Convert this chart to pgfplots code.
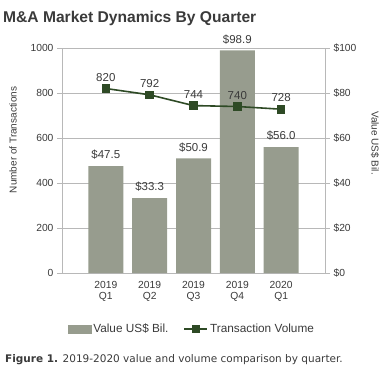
\documentclass[border=0pt]{standalone}
\usepackage{fontspec}
\setmainfont{Liberation Sans}
\newfontfamily\capfont{DejaVu Sans}
\usepackage{pgfplots}
\pgfplotsset{compat=1.18}
\definecolor{barc}{HTML}{979C8E}
\definecolor{linec}{HTML}{2E4A25}
\definecolor{gridc}{HTML}{B8B8B8}
\definecolor{txt}{HTML}{3A3A3A}
\pgfplotsset{
  base/.style={
    at={(62pt,-273pt)}, anchor=south west,
    width=263pt, height=225pt, scale only axis,
    xmin=-1, xmax=5, ymin=0,
    /pgf/number format/assume math mode=true,
    /pgf/number format/1000 sep={},
    tick align=outside, major tick length=5pt,
    axis line style={gridc, line width=0.8pt},
    tick style={gridc, line width=0.8pt},
    ticklabel style={font=\fontsize{10.3}{12}\selectfont, text=txt},
    label style={font=\fontsize{10}{12}\selectfont, text=txt},
  }
}
\begin{document}
\begin{tikzpicture}[x=1pt,y=1pt]
\path[use as bounding box] (0,0) rectangle (390,-380);
\node[anchor=west, font=\bfseries\fontsize{15.6}{17}\selectfont, text=txt, inner sep=0] at (3,-18) {M\&A Market Dynamics By Quarter};

% bars on the right axis
\begin{axis}[base,
  ymax=100, ytick={0,20,...,100},
  yticklabel={\$\pgfmathprintnumber{\tick}},
  axis y line*=right, axis x line*=bottom,
  ymajorgrids, grid style={gridc, line width=0.8pt},
  xtick={0,1,2,3,4},
  xticklabels={{2019\\Q1},{2019\\Q2},{2019\\Q3},{2019\\Q4},{2020\\Q1}},
  xticklabel style={align=center, font=\fontsize{10.3}{11}\selectfont},
  x tick style={draw=none},
  ylabel={Value US\$ Bil.},
  ylabel style={rotate=180, at={(axis description cs:1.19,0.578)}, anchor=center},
]
\addplot[ybar, bar width=35pt, fill=barc, draw=none,
  nodes near coords={\$\pgfmathprintnumber[fixed,fixed zerofill,precision=1]{\pgfplotspointmeta}},
  every node near coord/.append style={font=\fontsize{11.5}{13}\selectfont, text=txt, yshift=3pt}]
  coordinates {(0,47.5) (1,33.3) (2,50.9) (3,98.9) (4,56.0)};
\end{axis}

% line on the left axis
\begin{axis}[base,
  ymax=1000, ytick={0,200,...,1000},
  axis y line*=left, axis x line=none,
  ylabel={Number of Transactions},
  ylabel style={at={(axis description cs:-0.186,0.591)}, anchor=center},
  legend style={at={(0.494,-0.249)}, anchor=center, draw=none, fill=none,
    legend columns=2, font=\fontsize{11.8}{13}\selectfont, text=txt,
    /tikz/every even column/.append style={column sep=13pt}},
]
\addlegendimage{legend image code/.code={\fill[barc] (0pt,-4pt) rectangle (23pt,4pt);}}
\addlegendentry{Value US\$ Bil.}
\addplot[linec, line width=1.6pt, mark=square*, mark size=3.5pt,
  legend image code/.code={\draw[linec, line width=1.6pt] (0pt,0pt) -- (23pt,0pt); \fill[linec] (8pt,-3.5pt) rectangle (15pt,3.5pt);},
  nodes near coords, every node near coord/.append style={font=\fontsize{11.5}{13}\selectfont, text=txt, yshift=3pt}]
  coordinates {(0,820) (1,792) (2,744) (3,740) (4,728)};
\addlegendentry{Transaction Volume}
\end{axis}

\node[anchor=west, font=\capfont\fontsize{10.5}{12}\selectfont, text=txt, inner sep=0] at (5,-360) {\textbf{Figure 1.} 2019-2020 value and volume comparison by quarter.};
\end{tikzpicture}
\end{document}
